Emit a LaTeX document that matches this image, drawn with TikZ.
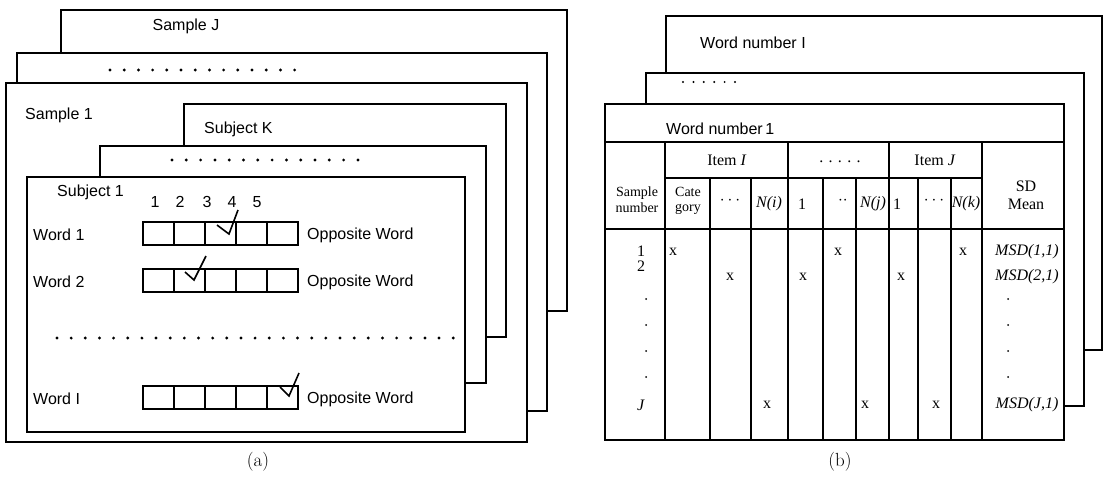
\documentclass[tikz,border=0pt]{standalone}
\usepackage{fontspec}
\usepackage{tikz}
\newfontfamily\gothic{Liberation Sans}
\newfontfamily\tabfont{Liberation Serif}

\begin{document}
\begin{tikzpicture}[x=1pt, y=-1pt,
        sheet/.style={draw, fill=white, line width=1.8pt},
        rule/.style={line width=1.8pt},
        lab/.style={font=\gothic\fontsize{16}{18}\selectfont, inner sep=0pt},
        tab/.style={font=\tabfont\fontsize{16}{18}\selectfont, inner sep=0pt, align=center},
        head/.style={font=\tabfont\fontsize{14}{15.6}\selectfont, inner sep=0pt, align=center},
        tick/.style={line width=1.6pt, line join=miter}
    ]
    \useasboundingbox (0,0) rectangle (1104,479);

    % (a) questionnaire sheets, back to front
    \draw[sheet] (61,10) rectangle (567,311);
    \node[lab] (smpJ) at (186,26) {Sample J};
    \draw[sheet] (17,53) rectangle (547,411);
    \foreach \k in {0,...,13} \fill (110+14.2*\k,70) circle[radius=1.6pt];
    \draw[sheet] (6,83) rectangle (527,442);
    \node[lab, anchor=west] (smp1) at (25,115) {Sample 1};
    \draw[sheet] (184,104) rectangle (506,337);
    \node[lab, anchor=west] (subK) at (204,129) {Subject K};
    \draw[sheet] (100,146) rectangle (486,383);
    \foreach \k in {0,...,13} \fill (172+14.3*\k,160) circle[radius=1.6pt];
    \draw[sheet] (27,177) rectangle (465,432);
    \node[lab, anchor=west] (sub1) at (57,192) {Subject 1};
    \foreach \n/\x in {1/155,2/180,3/207,4/232,5/257}
        \node[lab] (num\n) at (\x,202) {\n};
    \foreach \w/\txt/\y in {1/Word 1/222, 2/Word 2/269, 3/Word I/386} {
        \node[lab, anchor=west] (word\w) at (33,\y+13) {\txt};
        \foreach \i in {0,...,4} \draw[rule] (143+31*\i,\y) rectangle ++(31,23);
        \node[lab, anchor=west] (opp\w) at (307,\y+13) {Opposite Word};
    }
    \draw[tick] (217,225) -- (229,234) -- (238,210);
    \draw[tick] (185,272) -- (194,280) -- (206,256);
    \draw[tick] (280,387) -- (289,396) -- (299,373);
    \foreach \k in {0,...,28} \fill (57+14.15*\k,338) circle[radius=1.6pt];
    \node[font=\fontsize{19}{22}\selectfont] (capA) at (258,462) {(a)};

    % (b) answer tables, back to front
    \draw[sheet] (666,16) rectangle (1102,350);
    \node[lab, anchor=west] (wnI) at (700,43) {Word number I};
    \draw[sheet] (646,73) rectangle (1084,406);
    \foreach \k in {0,...,5} \fill (683+10.4*\k,82) circle[radius=1.1pt];
    \draw[sheet] (605,104) rectangle (1064,440);
    \node[lab, anchor=west] (wn1) at (666,129) {Word number\,1};
    \draw[rule] (605,142) -- (1064,142);
    \draw[rule] (665,178) -- (982,178);
    \draw[rule] (605,229) -- (1064,229);
    \foreach \x in {665,788,889,982} \draw[rule] (\x,142) -- (\x,440);
    \foreach \x in {710,751,823,856,918,951} \draw[rule] (\x,178) -- (\x,440);

    \node[tab] (itemI) at (727,160) {Item \textit{I}};
    \node[tab] (itemM) at (840,162) {. . . . .};
    \node[tab] (itemJ) at (935,160) {Item \textit{J}};
    \node[head] (smpNo) at (637,200) {Sample\\number};
    \node[head] (cat) at (688,201) {Cate\\gory};
    \node[tab] (dI) at (730,201) {$\cdots$};
    \node[tab] (nI) at (769,204) {\textit{N(i)}};
    \node[tab] (oneM) at (802,204) {1};
    \node[tab] (dM) at (843,201) {$\cdot\cdot$};
    \node[tab] (nJ) at (873,204) {\textit{N(j)}};
    \node[tab] (oneJ) at (897,204) {1};
    \node[tab] (dJ) at (934,201) {$\cdots$};
    \node[tab] (nK) at (966,204) {\textit{N(k)}};
    \node[head, font=\tabfont\fontsize{16}{17.8}\selectfont] (sdm) at (1026,195) {SD\\Mean};

    % data rows
    \node[tab] (r1) at (641,251) {1};
    \node[tab] (r2) at (641,266) {2};
    \node[tab] (rJ) at (641,405) {\textit{J}};
    \foreach \y in {299,325,351,377} {
        \fill (646,\y) circle[radius=1pt];
        \fill (1008,\y) circle[radius=1pt];
    }
    \foreach \x/\y in {673/252, 838/252, 963/252, 730/277, 803/277, 901/277, 767/405, 865/405, 936/405}
        \node[tab] at (\x,\y) {x};
    \node[tab] (msd1) at (1027,252) {\textit{MSD(1,1)}};
    \node[tab] (msd2) at (1027,277) {\textit{MSD(2,1)}};
    \node[tab] (msdJ) at (1027,405) {\textit{MSD(J,1)}};
    \node[font=\fontsize{19}{22}\selectfont] (capB) at (840,462) {(b)};
\end{tikzpicture}
\end{document}
